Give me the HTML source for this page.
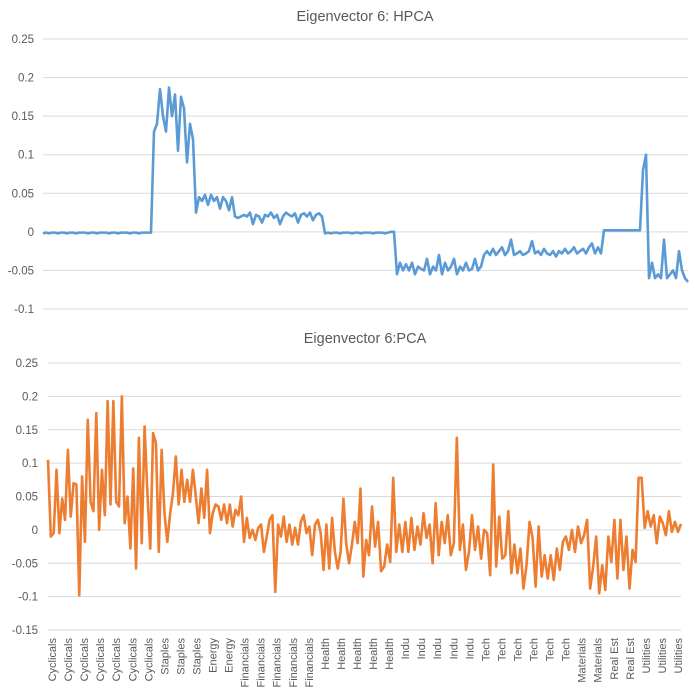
<!DOCTYPE html>
<html><head><meta charset="utf-8"><style>
html,body{margin:0;padding:0;background:#fff;}
svg{display:block;font-family:"Liberation Sans",sans-serif;}
</style></head><body>
<svg id="chart" width="695" height="693" viewBox="0 0 695 693" xmlns="http://www.w3.org/2000/svg">
<text x="365" y="21" font-size="14.5" fill="#595959" text-anchor="middle">Eigenvector 6: HPCA</text>
<text x="365" y="343" font-size="14.5" fill="#595959" text-anchor="middle">Eigenvector 6:PCA</text>
</svg>
<script>
const topTicks=[0.25,0.2,0.15,0.1,0.05,0,-0.05,-0.1];
const topTickLabels=["0.25","0.2","0.15","0.1","0.05","0","-0.05","-0.1"];
const bottomTicks=[0.25,0.2,0.15,0.1,0.05,0,-0.05,-0.1,-0.15];
const bottomTickLabels=["0.25","0.2","0.15","0.1","0.05","0","-0.05","-0.1","-0.15"];
const categories=["Cyclicals","Cyclicals","Cyclicals","Cyclicals","Cyclicals","Cyclicals","Cyclicals","Staples","Staples","Staples","Energy","Energy","Financials","Financials","Financials","Financials","Financials","Health","Health","Health","Health","Health","Indu","Indu","Indu","Indu","Indu","Tech","Tech","Tech","Tech","Tech","Tech","Materials","Materials","Real Est","Real Est","Utilities","Utilities","Utilities"];
const hpcaValues=[
-0.002,-0.001,-0.002,-0.001,-0.001,-0.002,-0.001,-0.001,-0.002,-0.001,-0.001,-0.002,-0.001,-0.001,-0.001,-0.002,-0.001,-0.001,-0.002,-0.001,-0.001,-0.001,-0.002,-0.001,-0.001,-0.002,-0.001,-0.001,-0.001,-0.002,-0.001,-0.001,-0.002,-0.001,-0.001,-0.001,-0.001,
0.13,0.14,0.185,0.15,0.13,0.187,0.15,0.178,0.105,0.175,0.16,0.09,0.14,0.12,
0.025,0.045,0.04,0.048,0.035,0.048,0.04,0.045,0.03,0.045,0.04,0.028,0.045,0.02,0.018,
0.02,0.022,0.02,0.025,0.01,0.022,0.02,0.012,0.022,0.02,0.025,0.018,0.022,0.01,0.02,0.025,0.022,0.02,0.024,0.012,0.022,0.024,0.02,0.025,0.015,0.022,0.024,0.02,
-0.002,-0.001,-0.002,-0.001,-0.001,-0.002,-0.001,-0.001,-0.001,-0.002,-0.001,-0.001,-0.002,-0.001,-0.001,-0.001,-0.002,-0.001,-0.001,-0.001,-0.002,-0.001,0,0,
-0.055,-0.04,-0.05,-0.042,-0.05,-0.04,-0.055,-0.045,-0.048,-0.05,-0.035,-0.055,-0.045,-0.05,-0.03,-0.055,-0.04,-0.05,-0.045,-0.035,-0.055,-0.045,-0.05,-0.04,-0.05,-0.048,-0.035,-0.05,-0.045,
-0.03,-0.025,-0.03,-0.022,-0.03,-0.025,-0.02,-0.03,-0.025,-0.01,-0.03,-0.028,-0.025,-0.03,-0.028,-0.025,-0.012,-0.028,-0.025,-0.03,-0.022,-0.028,-0.03,-0.025,-0.032,-0.025,-0.028,-0.022,-0.028,-0.025,-0.02,-0.028,-0.025,-0.022,-0.028,-0.02,-0.015,-0.028,-0.02,-0.028,
0.002,0.002,0.002,0.002,0.002,0.002,0.002,0.002,0.002,0.002,0.002,0.002,0.002,
0.08,0.1,
-0.06,-0.04,-0.06,-0.055,-0.06,-0.01,-0.06,-0.055,-0.05,-0.06,-0.025,-0.05,-0.06,-0.065];
const pcaValuesLeft=[
0.105,-0.01,-0.005,0.09,-0.005,0.047,0.015,0.12,0.02,0.07,0.068,-0.098,0.08,-0.018,0.165,0.042,0.028,0.175,0,0.09,0.022,0.193,0.038,0.193,0.042,0.035,0.2,0.01,0.05,-0.028,0.092,-0.058,0.138,-0.02,0.155,0.055,-0.028,0.145,0.13,-0.033,0.12,0.025,-0.018,0.025,0.055,0.11,0.038,0.09,0.042,0.075,0.042,0.09,0.052,0.01,0.062,0.018,0.09,-0.005,0.025,0.038,0.035,0.015,0.038,0.01,0.038,0.005,0.03,0.022,0.05,-0.018,0.018,-0.012,0,-0.015,0.003,0.008,-0.033,-0.01,0.015,0.022,-0.093,0.008,-0.01,0.02,-0.018,0.008,-0.022,0.003,-0.022,0.012,0.022,-0.005,0.005,-0.038,0.008,0.015,-0.005,-0.06,0.008,-0.058,0.018,-0.033,-0.058,-0.033,0.047,-0.022,-0.05,-0.022,0.012,-0.02,0.062,-0.07,-0.015,-0.038];
const pcaValuesRight=[
-0.038,0.035,-0.025,0.012,-0.062,-0.055,-0.022,-0.048,0.078,-0.033,0.008,-0.033,0.012,-0.033,0.018,-0.03,0.005,-0.022,0.025,-0.012,0.008,-0.05,0.04,-0.038,0.012,-0.02,0.022,-0.038,-0.02,0.138,-0.03,0.008,-0.06,-0.033,0.022,-0.03,0.005,-0.043,0,-0.005,-0.068,0.098,-0.055,0.02,-0.043,-0.038,0.028,-0.065,-0.022,-0.065,-0.028,-0.088,-0.053,0.012,-0.012,-0.085,0.005,-0.07,-0.038,-0.073,-0.038,-0.075,-0.028,-0.06,-0.018,-0.01,-0.03,0,-0.033,0.005,-0.02,-0.008,0.015,-0.088,-0.055,-0.01,-0.095,-0.053,-0.09,-0.01,-0.048,0.015,-0.073,0.015,-0.06,-0.01,-0.088,-0.03,-0.048,0.078,0.078,0.003,0.028,0.005,0.022,-0.02,0.02,0.01,-0.008,0.028,-0.003,0.012,-0.003,0.009];

const NS='http://www.w3.org/2000/svg';
const svg=document.getElementById('chart');
function mk(tag,attrs){const e=document.createElementNS(NS,tag);for(const k in attrs)e.setAttribute(k,attrs[k]);svg.appendChild(e);return e;}

function yScale(ticks,yTop,yBot){const vmax=ticks[0],vmin=ticks[ticks.length-1];return v=>yTop+(vmax-v)/(vmax-vmin)*(yBot-yTop);}
function drawAxis(prefix,ticks,labels,x0,x1,y,labelX){
  ticks.forEach((t,k)=>{
    const g=mk('line',{x1:x0,x2:x1,y1:y(t),y2:y(t),stroke:'#d9d9d9','stroke-width':1});
    
    
    const tx=mk('text',{x:labelX,y:y(t)+4,'font-size':11.5,fill:'#595959','text-anchor':'end'});
    tx.textContent=labels[k];
    
    
  });
}
function pathFor(values,x0,x1,y){
  let d='';
  values.forEach((v,i)=>{const xx=x0+i*(x1-x0)/(values.length-1);d+=(i?'L':'M')+xx.toFixed(2)+' '+y(v).toFixed(2);});
  return d;
}
const yTop=yScale(topTicks,39,309);
drawAxis('top',topTicks,topTickLabels,43,688,yTop,34);
const p1=mk('path',{d:pathFor(hpcaValues,43,688,yTop),fill:'none',stroke:'#5b9bd5','stroke-width':2.6,'stroke-linejoin':'round'});



const yBot=yScale(bottomTicks,363,630);
drawAxis('bottom',bottomTicks,bottomTickLabels,48,681,yBot,38);
const p2=mk('path',{d:pathFor(pcaValuesLeft,48,369,yBot)+pathFor(pcaValuesRight,369,681,yBot).replace(/^M/,'L'),fill:'none',stroke:'#ed7d31','stroke-width':2.6,'stroke-linejoin':'round'});



const lx0=52,lx1=678;
categories.forEach((c,i)=>{
  const xx=lx0+i*(lx1-lx0)/(categories.length-1)+4;
  const t=mk('text',{x:0,y:0,'font-size':11,fill:'#595959','text-anchor':'end',transform:'translate('+xx.toFixed(1)+',638) rotate(-90)'});
  t.textContent=c;
  
  
});
</script>
</body></html>
